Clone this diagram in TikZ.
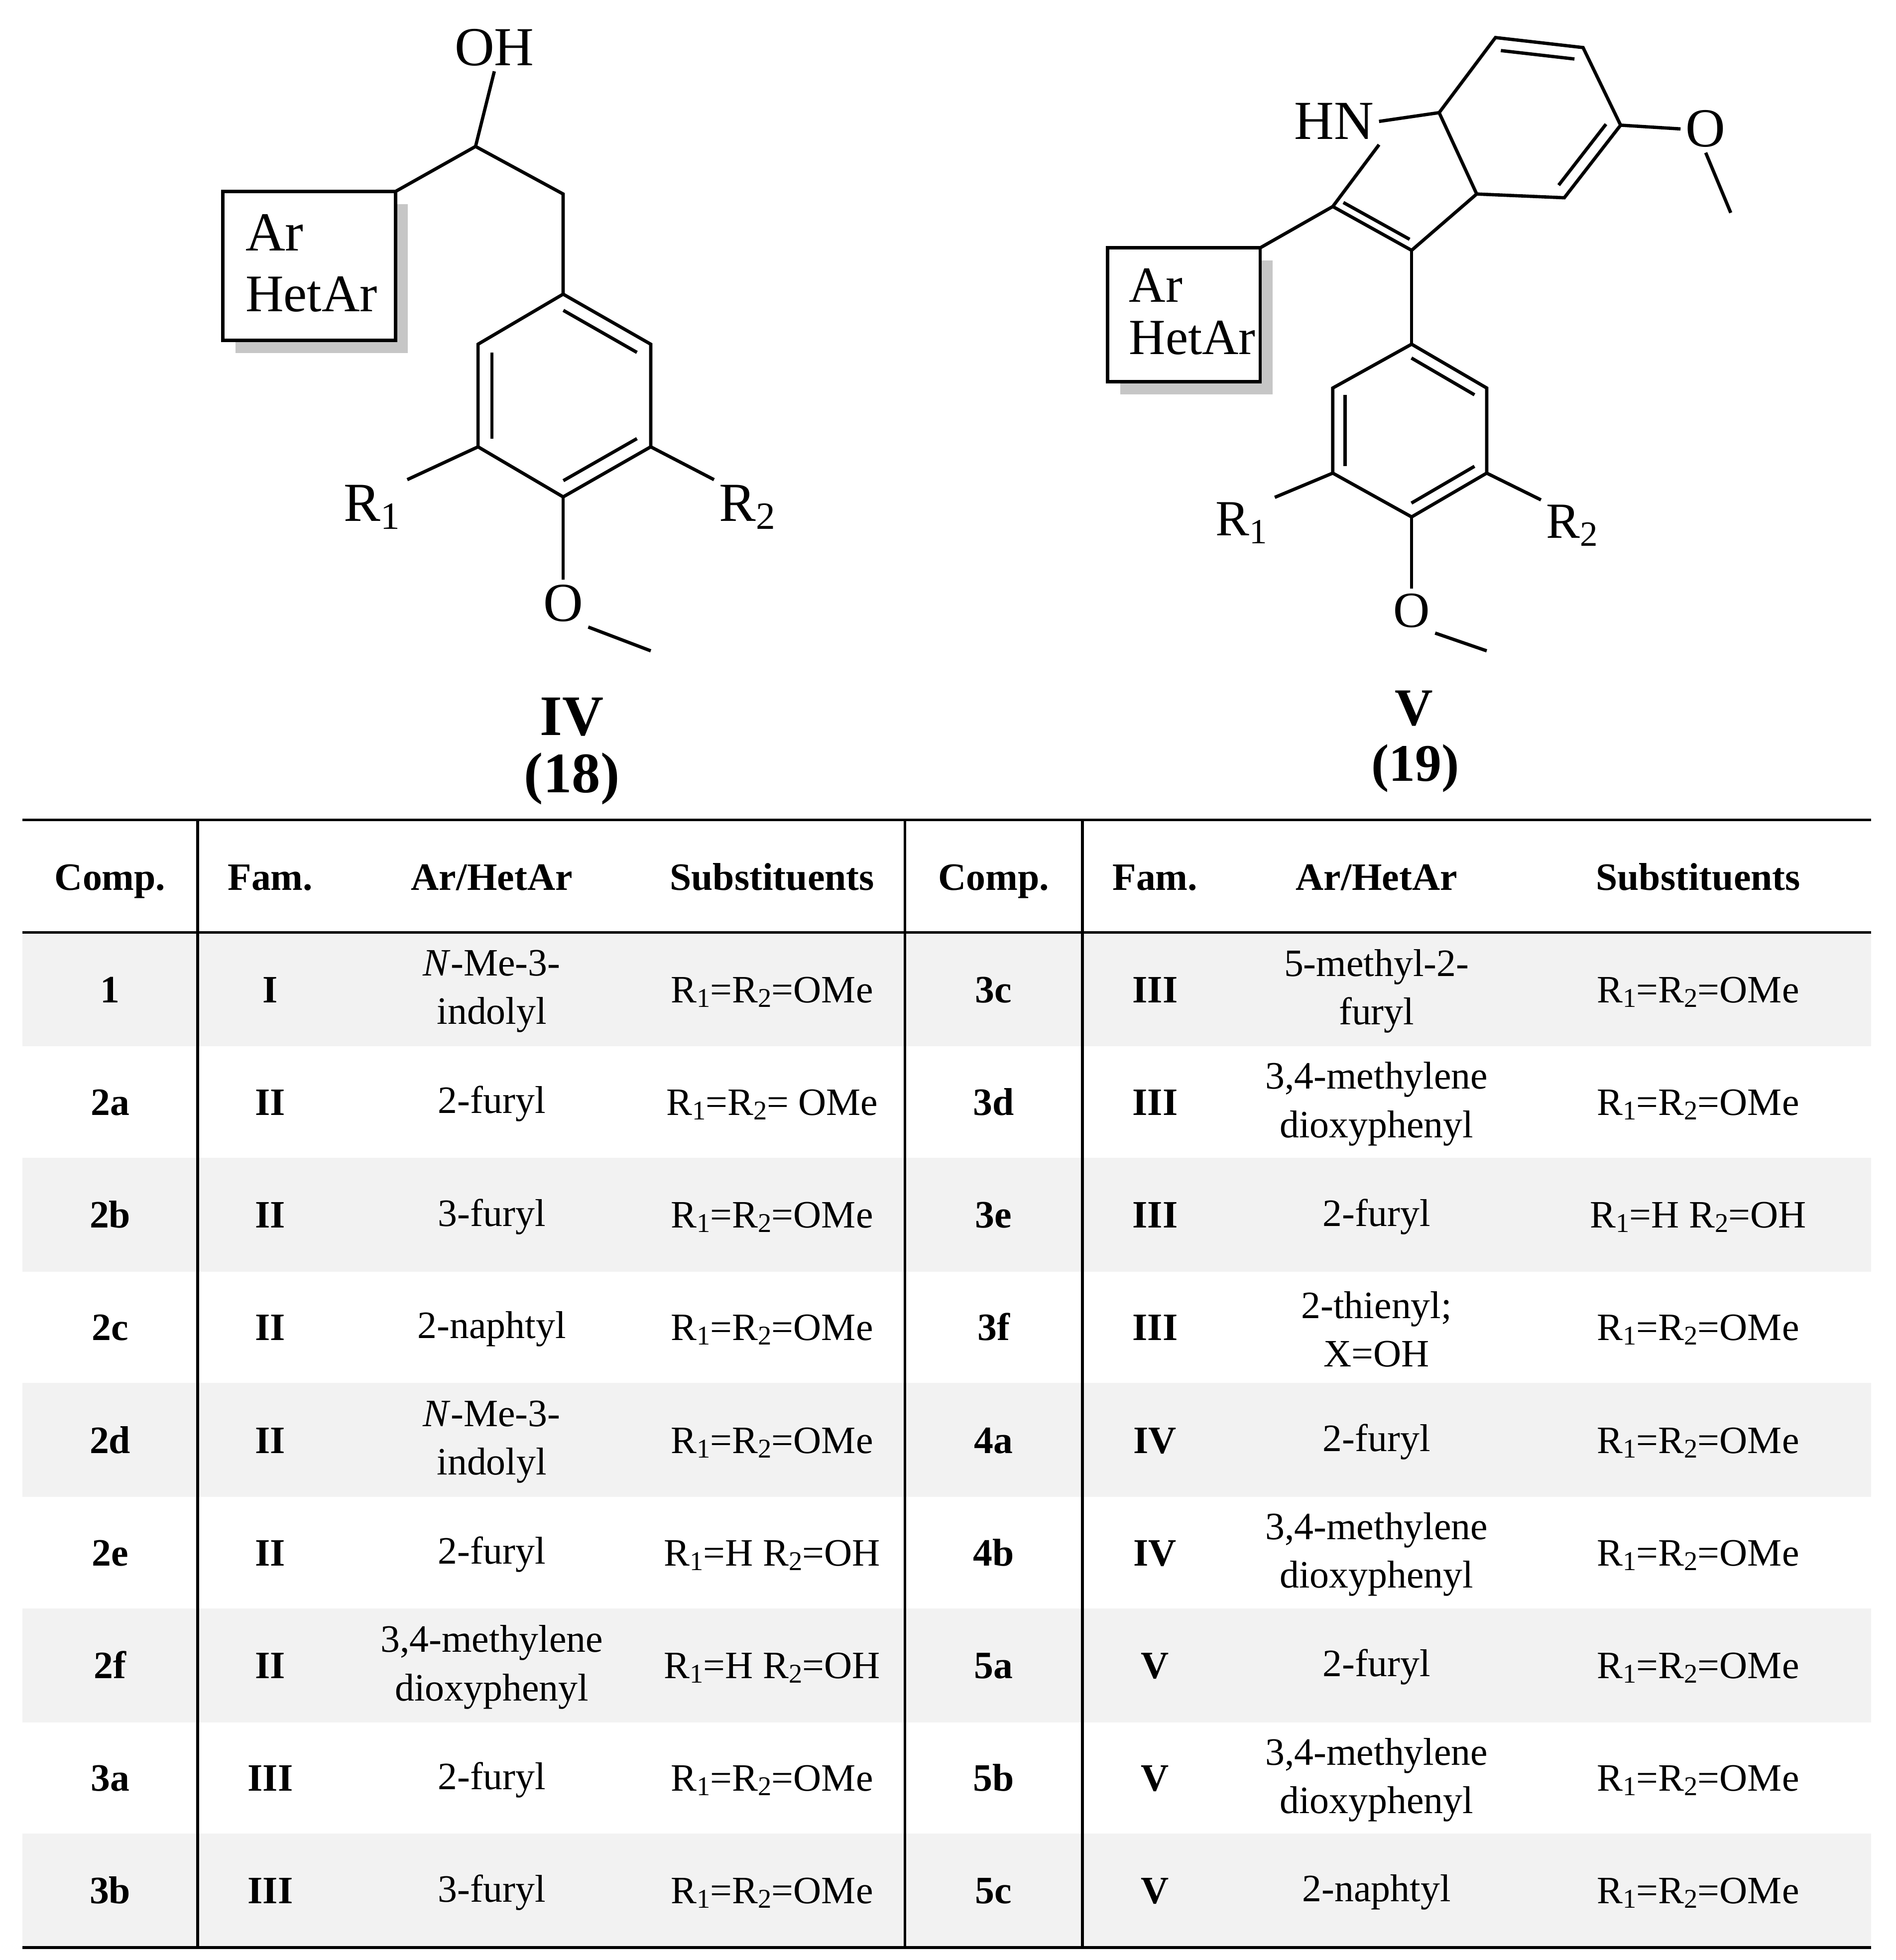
\documentclass[tikz,border=0pt]{standalone}
\usepackage{fontspec}
\setmainfont{Liberation Serif}
\usetikzlibrary{calc}
\newcommand{\sbs}[1]{\raisebox{-0.25ex}{\scalebox{0.7}{#1}}}
\begin{document}
\begin{tikzpicture}[x=0.01cm,y=-0.01cm,
  bond/.style={line width=0.75pt},
  chem/.style={font=\fontsize{12.5}{14}\selectfont,inner sep=1pt},
  chemb/.style={font=\fontsize{11.5}{13}\selectfont,inner sep=1pt},
  lab/.style={font=\fontsize{13}{15}\selectfont\bfseries},
  labb/.style={font=\fontsize{12}{14}\selectfont\bfseries},
  cell/.style={font=\fontsize{8.8}{11}\selectfont,align=center,inner sep=0pt},
  bcell/.style={cell,font=\fontsize{8.8}{11}\selectfont\bfseries},
  rule/.style={line width=0.6pt}]
\useasboundingbox (0,0) rectangle (1515,1566);
\newcommand{\dbl}[3]{\draw[bond] ($(#1)!0.84!(#2)$) -- ($(#1)!0.84!(#3)$);}
% ---------- IV ----------
\node[chem] (oh4) at (395,38) {OH};
\coordinate (c1) at (380,117);
\coordinate (bx) at (316,153);
\coordinate (ch2) at (450,155);
\coordinate (a1) at (450,235); \coordinate (a2) at (520,275); \coordinate (a3) at (520,357);
\coordinate (a4) at (450,397); \coordinate (a5) at (382,357); \coordinate (a6) at (382,275);
\coordinate (ac) at (451,316);
\fill[gray!45] (188,163) rectangle (326,282);
\draw[bond,fill=white] (178,153) rectangle (316,272);
\node[chem,anchor=west] at (192,186) {Ar};
\node[chem,anchor=west,font=\fontsize{12}{14}\selectfont] at (192,235) {HetAr};
\draw[bond] (oh4.south) -- (c1) -- (bx);
\draw[bond] (c1) -- (ch2) -- (a1);
\draw[bond] (a1) -- (a2) -- (a3) -- (a4) -- (a5) -- (a6) -- cycle;
\dbl{ac}{a1}{a2} \dbl{ac}{a3}{a4} \dbl{ac}{a5}{a6}
\node[chem] (r14) at (298,405) {R\textsubscript{1}};
\node[chem] (r24) at (598,405) {R\textsubscript{2}};
\node[chem] (o4) at (450,482) {O};
\draw[bond] (a5) -- (r14.north east);
\draw[bond] (a3) -- (r24.north west);
\draw[bond] (a4) -- (o4.north);
\draw[bond] (o4.south east) -- (520,520);
\node[lab] at (457,573) {IV};
\node[lab] at (457,622) {(18)};
% ---------- V ----------
\node[chem] (nh) at (1066,97) {HN};
\coordinate (c7a) at (1150,90); \coordinate (c7) at (1195,30); \coordinate (c6) at (1265,38);
\coordinate (c5) at (1295,100); \coordinate (c4) at (1250,158); \coordinate (c3a) at (1180,155);
\coordinate (bc) at (1222,95);
\coordinate (c3) at (1128,200); \coordinate (c2) at (1065,165);
\coordinate (pc) at (1118,145);
\draw[bond] (c7a) -- (c7) -- (c6) -- (c5) -- (c4) -- (c3a) -- cycle;
\dbl{bc}{c7}{c6} \dbl{bc}{c5}{c4}
\draw[bond] (nh.east) -- (c7a);
\draw[bond] (nh.south east) -- (c2) -- (c3) -- (c3a);
\dbl{pc}{c2}{c3}
\node[chem] (o5a) at (1363,103) {O};
\draw[bond] (c5) -- (o5a.west);
\draw[bond] (o5a.south) -- (1383,170);
\fill[gray!45] (895,208) rectangle (1017,315);
\draw[bond,fill=white] (885,198) rectangle (1007,305);
\node[chemb,anchor=west] at (898,228) {Ar};
\node[chemb,anchor=west] at (898,270) {HetAr};
\draw[bond] (c2) -- (1007,198);
\coordinate (b1) at (1128,275); \coordinate (b2) at (1188,310); \coordinate (b3) at (1188,378);
\coordinate (b4) at (1128,413); \coordinate (b5) at (1065,378); \coordinate (b6) at (1065,310);
\coordinate (bcc) at (1127,344);
\draw[bond] (c3) -- (b1);
\draw[bond] (b1) -- (b2) -- (b3) -- (b4) -- (b5) -- (b6) -- cycle;
\dbl{bcc}{b1}{b2} \dbl{bcc}{b3}{b4} \dbl{bcc}{b5}{b6}
\node[chemb] (r15) at (993,418) {R\textsubscript{1}};
\node[chemb] (r25) at (1257,420) {R\textsubscript{2}};
\node[chemb] (o5) at (1128,488) {O};
\draw[bond] (b5) -- (r15.north east);
\draw[bond] (b3) -- (r25.north west);
\draw[bond] (b4) -- (o5.north);
\draw[bond] (o5.south east) -- (1188,520);
\node[labb] at (1130,566) {V};
\node[labb] at (1131,614) {(19)};
% ---------- table ----------
\foreach \y in {745,925,1105,1285,1465} \fill[gray!10] (18,\y) rectangle (1495,\y+91);
\draw[rule] (18,655) -- (1495,655);
\draw[rule] (18,745) -- (1495,745);
\draw[rule] (18,1556) -- (1495,1556);
\foreach \x in {158,723,865} \draw[rule] (\x,655) -- (\x,1556);
\foreach \t/\x in {Comp./88,Fam./216,{Ar/HetAr}/393,Substituents/617,Comp./794,Fam./923,{Ar/HetAr}/1100,Substituents/1357}
  \node[bcell,anchor=base] at (\x,711) {\t};
\newcommand{\RR}{R\sbs{1}=R\sbs{2}=OMe}
\newcommand{\RH}{R\sbs{1}=H R\sbs{2}=OH}
\foreach \y/\ca/\fa/\aa/\sa/\cb/\fb/\ab/\sb in {
 792/1/I/{\textit{N}-Me-3-\\indolyl}/\RR/3c/III/{5-methyl-2-\\furyl}/\RR,
 882/2a/II/2-furyl/{R\sbs{1}=R\sbs{2}= OMe}/3d/III/{3,4-methylene\\dioxyphenyl}/\RR,
 972/2b/II/3-furyl/\RR/3e/III/2-furyl/\RH,
 1062/2c/II/2-naphtyl/\RR/3f/III/{2-thienyl;\\X=OH}/\RR,
 1152/2d/II/{\textit{N}-Me-3-\\indolyl}/\RR/4a/IV/2-furyl/\RR,
 1242/2e/II/2-furyl/\RH/4b/IV/{3,4-methylene\\dioxyphenyl}/\RR,
 1332/2f/II/{3,4-methylene\\dioxyphenyl}/\RH/5a/V/2-furyl/\RR,
 1422/3a/III/2-furyl/\RR/5b/V/{3,4-methylene\\dioxyphenyl}/\RR,
 1512/3b/III/3-furyl/\RR/5c/V/2-naphtyl/\RR}{
  \node[bcell,anchor=base] at (88,\y+9) {\ca};
  \node[bcell,anchor=base] at (216,\y+9) {\fa};
  \node[cell] at (393,\y) {\aa};
  \node[cell,anchor=base] at (617,\y+9) {\sa};
  \node[bcell,anchor=base] at (794,\y+9) {\cb};
  \node[bcell,anchor=base] at (923,\y+9) {\fb};
  \node[cell] at (1100,\y) {\ab};
  \node[cell,anchor=base] at (1357,\y+9) {\sb};
}
\end{tikzpicture}
\end{document}
